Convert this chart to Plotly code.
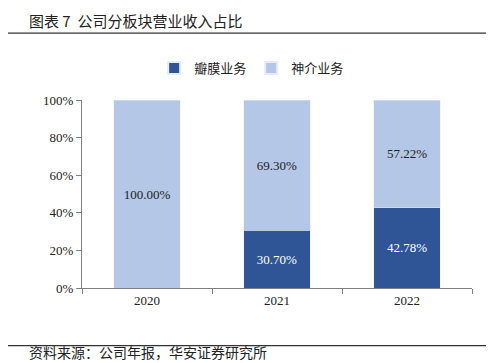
import plotly.graph_objects as go

years = ["2020", "2021", "2022"]
valve = [0.0, 30.70, 42.78]
neuro = [100.00, 69.30, 57.22]
valve_name = "瓣膜业务"
neuro_name = "神介业务"
title_text = "图表 7  公司分板块营业收入占比"
source_text = "资料来源：公司年报，华安证券研究所"

FONT = "Liberation Serif, Times New Roman, Noto Sans CJK SC, serif"
CJK = "Noto Sans CJK SC, Liberation Serif, serif"

fig = go.Figure()
fig.add_trace(go.Bar(
    x=years, y=valve, name=valve_name, marker_color="#2F5597",
    text=[("" if v == 0 else f"{v:.2f}%") for v in valve],
    textposition="inside", insidetextanchor="middle",
    textfont=dict(color="white", size=13, family=FONT),
))
fig.add_trace(go.Bar(
    x=years, y=neuro, name=neuro_name, marker_color="#B4C7E7",
    text=[f"{v:.2f}%" for v in neuro],
    textposition="inside", insidetextanchor="middle",
    textfont=dict(color="#222222", size=13, family=FONT),
))

fig.update_layout(
    barmode="stack", bargap=0.485,
    width=486, height=355,
    margin=dict(l=74, r=22, t=92, b=75),
    paper_bgcolor="white", plot_bgcolor="white",
    font=dict(family=FONT, size=13, color="#222222"),
    showlegend=True,
    legend=dict(orientation="h", x=0.435, xanchor="center", y=1.17, yanchor="middle",
                font=dict(family=CJK, size=13), itemsizing="constant",
                traceorder="normal", itemwidth=30),
    uniformtext=dict(mode="show", minsize=13),
)
fig.update_yaxes(range=[0, 100], tickvals=[0, 20, 40, 60, 80, 100],
                 ticktext=["0%", "20%", "40%", "60%", "80%", "100%"],
                 showgrid=False, showline=True, linecolor="#808080", linewidth=1,
                 ticks="outside", ticklen=5, tickcolor="#808080",
                 tickfont=dict(family=FONT, size=13), zeroline=False)
fig.update_xaxes(showgrid=False, showline=True, linecolor="#808080", linewidth=1,
                 ticks="outside", ticklen=5, tickcolor="#808080", tickson="boundaries",
                 tickfont=dict(family=FONT, size=13))

fig.add_shape(type="line", xref="paper", yref="paper", x0=-0.21, x1=1.041,
              y0=1.356, y1=1.356, line=dict(color="#333333", width=1.2))
fig.add_shape(type="line", xref="paper", yref="paper", x0=-0.21, x1=1.041,
              y0=-0.307, y1=-0.307, line=dict(color="#333333", width=1.2))
fig.add_annotation(text=title_text, xref="paper", yref="paper", x=-0.14, y=1.425,
                   xanchor="left", yanchor="middle", showarrow=False,
                   font=dict(family=CJK, size=15, color="#222222"))
fig.add_annotation(text=source_text, xref="paper", yref="paper", x=-0.14, y=-0.34,
                   xanchor="left", yanchor="middle", showarrow=False,
                   font=dict(family=CJK, size=14, color="#222222"))

fig.write_html("out.html")
